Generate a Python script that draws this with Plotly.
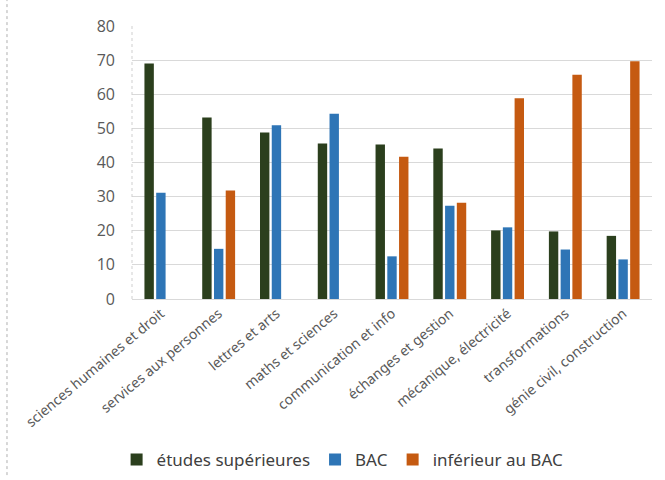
import plotly.graph_objects as go

categories = [
    "sciences humaines et droit",
    "services aux personnes",
    "lettres et arts",
    "maths et sciences",
    "communication et info",
    "échanges et gestion",
    "mécanique, électricité",
    "transformations",
    "génie civil, construction",
]
etudes_superieures = [69.0, 53.2, 48.8, 45.6, 45.3, 44.1, 20.1, 19.8, 18.5]
bac = [31.1, 14.7, 50.9, 54.3, 12.5, 27.3, 21.0, 14.5, 11.6]
inferieur_bac = [0, 31.8, 0, 0, 41.7, 28.2, 58.8, 65.7, 69.7]
y_ticks = [0, 10, 20, 30, 40, 50, 60, 70, 80]

series = [
    ("études supérieures", etudes_superieures, "#2b3f1d"),
    ("BAC", bac, "#2e75b6"),
    ("inférieur au BAC", inferieur_bac, "#c55a11"),
]

fig = go.Figure()
for name, vals, color in series:
    fig.add_trace(go.Bar(
        x=categories, y=vals, name=name,
        marker=dict(color=color, line=dict(width=0)),
    ))

fig.update_layout(
    width=665, height=480,
    margin=dict(l=132, r=13, t=26, b=181, autoexpand=False),
    paper_bgcolor="white", plot_bgcolor="white",
    barmode="group", bargap=0.39, bargroupgap=0.2,
    showlegend=True,
    legend=dict(
        orientation="h", x=0.405, xanchor="center", y=-0.59, yanchor="middle",
        font=dict(family="Noto Sans", size=17, color="#404040"),
        itemwidth=30, traceorder="normal",
    ),
    font=dict(family="Noto Sans", color="#595959"),
)

fig.update_xaxes(
    tickangle=-40, tickfont=dict(family="Noto Sans", size=14, color="#595959"),
    showgrid=False, showline=True, linecolor="#d9d9d9", linewidth=1,
    ticks="", fixedrange=True, automargin=False,
)
fig.update_yaxes(
    range=[0, 80], tickvals=y_ticks,
    tickfont=dict(family="Open Sans", size=16, color="#595959"),
    showgrid=True, gridcolor="#d9d9d9", gridwidth=1,
    zeroline=False, showline=False, ticks="", ticklabelstandoff=16,
    automargin=False,
)

# dashed left edge of the plot area
fig.add_shape(type="line", xref="x domain", yref="y domain",
              x0=0, x1=0, y0=0, y1=1,
              line=dict(color="#cfcfcf", width=1, dash="dot"))
# faint dotted rule along the left of the page
fig.add_shape(type="line", xref="x domain", yref="y domain",
              x0=-0.2404, x1=-0.2404, y0=-0.645, y1=1.095,
              line=dict(color="#b0b0b0", width=1, dash="dot"))

fig.write_html("out.html")
